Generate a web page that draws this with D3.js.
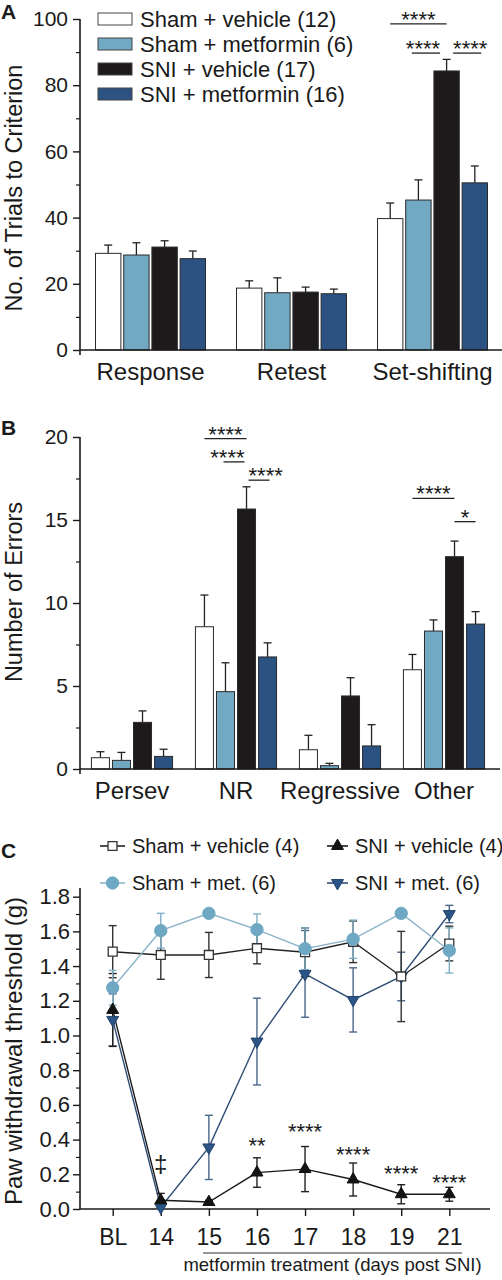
<!DOCTYPE html>
<html><head><meta charset="utf-8">
<script src="https://cdn.jsdelivr.net/npm/d3@7"></script>
<style>
body{margin:0;background:#fff}
svg text{font-family:"Liberation Sans",Arial,Helvetica,sans-serif;fill:#1a1a1a}
</style>
</head><body><svg id="c" width="502" height="1280"></svg>
<script>
// ---------- Data: panel A ----------
const seriesA = ["Sham + vehicle (12)", "Sham + metformin (6)", "SNI + vehicle (17)", "SNI + metformin (16)"];
const categoriesA = ["Response", "Retest", "Set-shifting"];
const shamVehA = [29.2, 18.7, 39.7];
const shamVehAErr = [2.5, 2.2, 4.7];
const shamMetA = [28.7, 17.3, 45.3];
const shamMetAErr = [3.7, 4.5, 6.1];
const sniVehA = [31.1, 17.5, 84.3];
const sniVehAErr = [1.9, 1.5, 3.5];
const sniMetA = [27.6, 17.0, 50.5];
const sniMetAErr = [2.3, 1.4, 5.1];
const ticksA = [0, 20, 40, 60, 80, 100];
const minorA = [10, 30, 50, 70, 90];
// significance: [category, fromSeries, toSeries, level, label, anchor]
const sigA = [
  ["Set-shifting", 0, 2, 98.5, "****", "middle"],
  ["Set-shifting", 1, 2, 89.7, "****", "end"],
  ["Set-shifting", 2, 3, 89.7, "****", "start"]
];

// ---------- Data: panel B ----------
const categoriesB = ["Persev", "NR", "Regressive", "Other"];
const shamVehB = [0.68, 8.57, 1.16, 5.98];
const shamVehBErr = [0.36, 1.91, 0.87, 0.92];
const shamMetB = [0.52, 4.66, 0.20, 8.31];
const shamMetBErr = [0.48, 1.74, 0.14, 0.67];
const sniVehB = [2.81, 15.66, 4.40, 12.79];
const sniVehBErr = [0.69, 1.34, 1.10, 0.94];
const sniMetB = [0.76, 6.75, 1.39, 8.73];
const sniMetBErr = [0.43, 0.85, 1.28, 0.75];
const ticksB = [0, 5, 10, 15, 20];
const minorB = [2.5, 7.5, 12.5, 17.5];
const sigB = [
  ["NR", 0, 2, 19.9, "****", "middle"],
  ["NR", 1, 2, 18.5, "****", "end"],
  ["NR", 2, 3, 17.4, "****", "start"],
  ["Other", 0, 2, 16.3, "****", "middle"],
  ["Other", 2, 3, 14.9, "*", "middle"]
];

// ---------- Data: panel C ----------
const daysC = ["BL", "14", "15", "16", "17", "18", "19", "21"];
const seriesC = ["Sham + vehicle (4)", "Sham + met. (6)", "SNI + vehicle (4)", "SNI + met. (6)"];
const shamVehC = [1.483, 1.464, 1.464, 1.503, 1.48, 1.54, 1.34, 1.53];
const shamVehCErr = [0.15, 0.14, 0.13, 0.09, 0.14, 0.12, 0.26, 0.10];
const shamMetC = [1.275, 1.604, 1.704, 1.61, 1.50, 1.555, 1.704, 1.49];
const shamMetCErr = [0.10, 0.10, 0.0, 0.09, 0.12, 0.11, 0.0, 0.13];
const sniVehC = [1.147, 0.05, 0.04, 0.21, 0.23, 0.17, 0.085, 0.085];
const sniVehCErr = [0.21, 0.04, 0.01, 0.085, 0.13, 0.095, 0.055, 0.04];
const sniMetC = [1.09, 0.01, 0.355, 0.965, 1.355, 1.205, 1.34, 1.70];
const sniMetCErr = [0.15, 0.01, 0.185, 0.25, 0.25, 0.185, 0.14, 0.05];
const ticksC = [0, 0.2, 0.4, 0.6, 0.8, 1.0, 1.2, 1.4, 1.6, 1.8];
const minorC = [0.1, 0.3, 0.5, 0.7, 0.9, 1.1, 1.3, 1.5, 1.7];
// annotation: [day, level, label]
const sigC = [
  ["14", 0.213, "‡"],
  ["16", 0.30, "**"],
  ["17", 0.38, "****"],
  ["18", 0.248, "****"],
  ["19", 0.138, "****"],
  ["21", 0.087, "****"]
];

// ---------- Styles ----------
const barColors = ["#ffffff", "#72a9c2", "#1e1a1b", "#2b5281"];
const FONT = '"Liberation Sans",Arial,Helvetica,sans-serif';
const STARFONT = '"DejaVu Sans",sans-serif';
const AX = "#1a1a1a";

const svg = d3.select("#c");
svg.append("rect").attr("width", 502).attr("height", 1280).attr("fill", "#fff");

function panelLabel(t, y) {
  svg.append("text").attr("x", 1).attr("y", y).attr("font-size", 21).attr("font-weight", "bold").text(t);
}
function yLabel(t, cy, size) {
  svg.append("text").attr("transform", `translate(22,${cy}) rotate(-90)`)
    .attr("text-anchor", "middle").attr("font-size", size).text(t);
}
function stars(x, y, lab, anchor, size) {
  svg.append("text").attr("x", x).attr("y", y).attr("text-anchor", anchor)
    .attr("font-family", STARFONT).attr("font-size", size).text(lab);
}
function yAxis(y, major, minor, fmt, fontSize, pad, ext) {
  const g = svg.append("g").attr("transform", "translate(80,0)");
  g.call(d3.axisLeft(y).tickValues(major).tickSize(7).tickPadding(pad).tickSizeOuter(0).tickFormat(fmt));
  g.select(".domain").remove();
  g.selectAll("line").attr("stroke", AX).attr("stroke-width", 1.4);
  g.selectAll("text").attr("font-size", fontSize).attr("font-family", FONT).attr("fill", AX);
  const m = svg.append("g").attr("transform", "translate(80,0)");
  m.call(d3.axisLeft(y).tickValues(minor).tickSize(4).tickFormat(""));
  m.select(".domain").remove();
  m.selectAll("line").attr("stroke", AX).attr("stroke-width", 1.2);
  const [r0, r1] = y.range();
  svg.append("line").attr("x1", 80).attr("x2", 80).attr("y1", r1).attr("y2", r0 + ext)
    .attr("stroke", AX).attr("stroke-width", 1.6);
}

function barPanel(o) {
  const x0 = d3.scaleBand().domain(o.cats).range(o.xRange).paddingInner(0.22).paddingOuter(0.11);
  const x1 = d3.scaleBand().domain(d3.range(4)).range([0, x0.bandwidth()]).paddingInner(o.barPad);
  const y = d3.scaleLinear().domain(o.yDomain).range(o.yRange);
  const vals = o.values, errs = o.errs;
  const cx = (c, s) => x0(c) + x1(s) + x1.bandwidth() / 2;
  const eg = svg.append("g").attr("stroke", "#222").attr("stroke-width", 1.3);
  o.cats.forEach((c, i) => {
    for (let s = 0; s < 4; s++) {
      const v = vals[s][i], e = errs[s][i];
      eg.append("line").attr("x1", cx(c, s)).attr("x2", cx(c, s)).attr("y1", y(v)).attr("y2", y(v + e));
      eg.append("line").attr("x1", cx(c, s) - 4).attr("x2", cx(c, s) + 4).attr("y1", y(v + e)).attr("y2", y(v + e));
    }
  });
  const bg = svg.append("g");
  o.cats.forEach((c, i) => {
    for (let s = 0; s < 4; s++) {
      const v = vals[s][i];
      bg.append("rect").attr("x", x0(c) + x1(s)).attr("y", y(v))
        .attr("width", x1.bandwidth()).attr("height", y(0) - y(v))
        .attr("fill", barColors[s]).attr("stroke", "#2a2a2a").attr("stroke-width", 1);
    }
  });
  yAxis(y, o.ticks, o.minor, d3.format("d"), 21, 5, 5);
  svg.append("line").attr("x1", 80).attr("x2", o.axisEnd).attr("y1", y(0)).attr("y2", y(0))
    .attr("stroke", AX).attr("stroke-width", 1.6);
  o.cats.forEach(c => {
    svg.append("text").attr("x", x0(c) + x0.bandwidth() / 2).attr("y", y(0) + o.catOffset)
      .attr("text-anchor", "middle").attr("font-size", 24).text(c);
  });
  o.sig.forEach(([c, a, b, lvl, lab, anchor]) => {
    const sh = anchor === "end" ? -o.sigShift : anchor === "start" ? o.sigShift : 0;
    const xa = cx(c, a) + sh, xb = cx(c, b) + sh, yy = y(lvl);
    svg.append("line").attr("x1", xa).attr("x2", xb).attr("y1", yy).attr("y2", yy)
      .attr("stroke", "#222").attr("stroke-width", 1.3);
    const tx = anchor === "middle" ? (xa + xb) / 2 : anchor === "end" ? xb : xa;
    stars(tx, yy + 3, lab, anchor, 22);
  });
  return { x0, x1, y };
}

// ---------- Panel A ----------
panelLabel("A", 19);
barPanel({
  cats: categoriesA, xRange: [80, 503], barPad: 0.1, axisEnd: 502,
  yDomain: [0, 100], yRange: [350, 19], ticks: ticksA, minor: minorA,
  values: [shamVehA, shamMetA, sniVehA, sniMetA],
  errs: [shamVehAErr, shamMetAErr, sniVehAErr, sniMetAErr],
  catOffset: 30, sig: sigA, sigShift: 6.5
});
yLabel("No. of Trials to Criterion", 188, 23.5);
const legA = svg.append("g");
seriesA.forEach((s, i) => {
  const cy = 19 + i * 25;
  legA.append("rect").attr("x", 98).attr("y", cy - 6).attr("width", 34).attr("height", 12)
    .attr("fill", barColors[i]).attr("stroke", "#444").attr("stroke-width", 1);
  legA.append("text").attr("x", 140).attr("y", cy + 8).attr("font-size", 22).text(s);
});

// ---------- Panel B ----------
panelLabel("B", 435);
barPanel({
  cats: categoriesB, xRange: [80, 496], barPad: 0.144, axisEnd: 500,
  yDomain: [0, 20], yRange: [769, 437], ticks: ticksB, minor: minorB,
  values: [shamVehB, shamMetB, sniVehB, sniMetB],
  errs: [shamVehBErr, shamMetBErr, sniVehBErr, sniMetBErr],
  catOffset: 30, sig: sigB, sigShift: 2
});
yLabel("Number of Errors", 592, 23.5);

// ---------- Panel C ----------
panelLabel("C", 858);
const xC = d3.scalePoint().domain(daysC).range([112.7, 449.3]);
const yC = d3.scaleLinear().domain([0, 1.85]).range([1209, 888]);
yAxis(yC, ticksC, minorC, d3.format(".1f"), 22, 3, 0);
svg.append("line").attr("x1", 80).attr("x2", 490).attr("y1", yC(0)).attr("y2", yC(0))
  .attr("stroke", AX).attr("stroke-width", 1.6);
const xg = svg.append("g").attr("transform", `translate(0,${yC(0)})`);
xg.call(d3.axisBottom(xC).tickSize(7).tickPadding(13).tickSizeOuter(0));
xg.select(".domain").remove();
xg.selectAll("line").attr("stroke", AX).attr("stroke-width", 1.4);
xg.selectAll("text").attr("font-size", 23).attr("font-family", FONT).attr("fill", AX);
svg.append("line").attr("x1", 203).attr("x2", 462).attr("y1", 1253).attr("y2", 1253)
  .attr("stroke", "#333").attr("stroke-width", 1.2);
svg.append("text").attr("x", 332.5).attr("y", 1271).attr("text-anchor", "middle")
  .attr("font-size", 18.5).text("metformin treatment (days post SNI)");
yLabel("Paw withdrawal threshold (g)", 1051, 24);

const cSeries = [
  { vals: sniMetC, errs: sniMetCErr, line: "#2d4c74", err: "#4a6688", fill: "#2b5586", stroke: "#22436b", sym: "down" },
  { vals: sniVehC, errs: sniVehCErr, line: "#1a1a1a", err: "#222", fill: "#141414", stroke: "#111", sym: "up" },
  { vals: shamVehC, errs: shamVehCErr, line: "#222", err: "#333", fill: "#ffffff", stroke: "#333", sym: "square" },
  { vals: shamMetC, errs: shamMetCErr, line: "#8db5c8", err: "#7fb0c6", fill: "#6fa8c3", stroke: "#6fa8c3", sym: "circle" }
];
const legendIdx = { square: 0, circle: 1, up: 2, down: 3 };
function symPath(sym) {
  if (sym === "square") return d3.symbol().type(d3.symbolSquare).size(80)();
  if (sym === "circle") return d3.symbol().type(d3.symbolCircle).size(120)();
  return d3.symbol().type(d3.symbolTriangle).size(62)();
}
function drawMarker(g, sym, x, y, s) {
  g.append("path").attr("d", symPath(sym))
    .attr("fill", s.fill).attr("stroke", s.stroke).attr("stroke-width", sym === "square" ? 1.3 : 1)
    .attr("transform", `translate(${x},${y})` + (sym === "down" ? " rotate(180)" : ""));
}
const line = d3.line().x((d, i) => xC(daysC[i])).y(d => yC(d));
cSeries.forEach(s => {
  svg.append("path").attr("d", line(s.vals)).attr("fill", "none")
    .attr("stroke", s.line).attr("stroke-width", 1.4);
});
cSeries.forEach(s => {
  const g = svg.append("g").attr("stroke", s.err).attr("stroke-width", 1.4);
  s.vals.forEach((v, i) => {
    const e = s.errs[i]; if (e <= 0) return;
    const x = xC(daysC[i]);
    g.append("line").attr("x1", x).attr("x2", x).attr("y1", yC(v - e)).attr("y2", yC(v + e));
    [v - e, v + e].forEach(t => g.append("line").attr("x1", x - 4).attr("x2", x + 4).attr("y1", yC(t)).attr("y2", yC(t)));
  });
});
cSeries.forEach(s => {
  const g = svg.append("g");
  s.vals.forEach((v, i) => drawMarker(g, s.sym, xC(daysC[i]), yC(v), s));
});
sigC.forEach(([d, lvl, lab]) => {
  stars(xC(d), yC(lvl) - (lab === "‡" ? 0 : 4), lab, "middle", lab === "‡" ? 24 : 22);
});
const legPos = [[100, 125, 846], [100, 125, 883], [327, 348, 846], [327, 348, 883]];
cSeries.forEach(s => {
  const k = legendIdx[s.sym];
  const [lx1, lx2, ly] = legPos[k];
  const g = svg.append("g");
  g.append("line").attr("x1", lx1).attr("x2", lx2).attr("y1", ly).attr("y2", ly)
    .attr("stroke", s.line).attr("stroke-width", 1.6);
  drawMarker(g, s.sym, (lx1 + lx2) / 2, ly, s);
  g.append("text").attr("x", lx2 + 7).attr("y", ly + 7).attr("font-size", 20).text(seriesC[k]);
});
</script>
</body></html>
